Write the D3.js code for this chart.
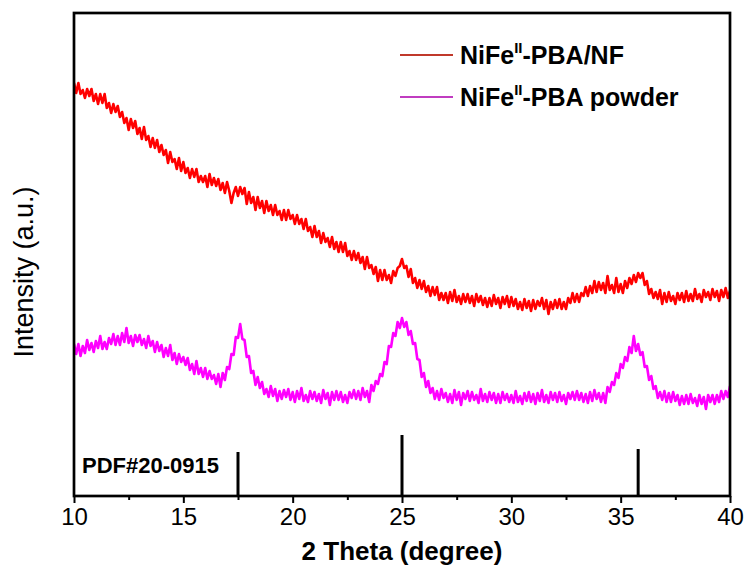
<!DOCTYPE html>
<html>
<head>
<meta charset="utf-8">
<script src="https://cdn.jsdelivr.net/npm/d3@7"></script>
<style>
  body { margin: 0; background: #fff; }
  svg { display: block; font-family: "Liberation Sans", Arial, sans-serif; }
</style>
</head>
<body>
<div id="chart"></div>
<script>
// scan grid (degrees 2theta)
const thetaStart = 10, thetaStep = 0.1;

// NiFe-PBA/NF, every 0.1 deg (a.u.)
const nfCounts = [
  413,403,413,402,406,398,407,400,407,395,
  402,392,402,393,402,388,393,383,392,384,
  390,379,384,373,378,366,377,368,375,362,
  368,357,369,356,360,349,358,348,356,344,
  351,341,346,333,344,334,337,327,338,325,
  334,323,328,318,327,319,327,314,320,314,
  320,309,322,311,318,310,317,306,313,303,
  314,305,293,303,309,300,309,302,308,292,
  304,293,299,286,299,288,295,283,295,285,
  291,281,291,281,285,276,286,276,286,277,
  281,272,281,272,277,267,277,265,269,259,
  270,259,265,253,263,254,258,249,259,247,
  254,244,254,244,253,240,245,236,245,236,
  243,233,239,227,239,228,231,222,229,215,
  226,216,226,216,221,213,225,220,228,230,
  237,228,230,219,227,213,218,208,216,207,
  215,204,210,200,209,201,209,196,203,196,
  203,193,204,195,206,194,200,192,202,194,
  202,193,200,190,202,194,200,191,198,189,
  198,190,201,192,198,188,199,192,200,189,
  199,190,197,187,194,186,197,188,195,185,
  196,187,195,190,198,187,196,182,194,187,
  196,188,197,187,194,187,198,193,203,194,
  202,194,203,200,209,200,210,203,215,204,
  214,206,213,203,220,206,211,203,218,204,
  212,203,215,208,218,212,221,214,223,218,
  223,211,215,202,207,198,204,197,206,192,
  203,194,204,195,200,192,203,196,203,194,
  205,195,202,195,207,197,202,194,206,199,
  204,196,207,199,205,195,206,199,208,198,
  205
];

// NiFe-PBA powder
const powderCounts = [
  152,142,152,140,150,143,156,146,153,144,
  155,148,160,147,154,147,158,152,162,151,
  160,151,163,154,168,153,160,150,161,154,
  161,151,157,148,160,150,155,144,154,145,
  151,139,148,140,151,136,143,132,142,134,
  139,131,138,126,132,122,135,122,128,119,
  128,117,125,117,121,112,122,109,123,116,
  129,127,142,141,159,158,172,157,156,139,
  140,123,125,111,119,108,114,102,107,99,
  110,100,107,95,105,97,106,99,107,96,
  104,94,105,97,108,95,101,94,105,97,
  104,95,102,93,106,97,103,91,104,96,
  105,96,104,94,101,93,104,98,106,97,
  105,96,108,99,105,94,111,105,115,112,
  122,120,134,132,150,149,163,160,174,168,
  178,169,174,161,165,152,153,137,136,119,
  123,109,115,103,108,97,105,96,107,98,
  103,94,102,93,106,96,104,91,103,97,
  105,95,104,96,101,93,107,95,102,94,
  104,96,103,93,102,93,104,96,102,94,
  101,93,105,94,100,92,103,95,104,94,
  102,92,103,95,106,94,101,93,104,96,
  103,94,104,95,101,92,103,97,104,96,
  105,96,103,94,102,93,104,95,106,97,
  103,94,103,93,109,104,114,111,123,118,
  132,128,139,135,149,143,160,145,152,141,
  144,129,130,116,120,107,110,98,104,96,
  105,94,103,94,104,95,101,91,100,92,
  101,92,102,93,98,90,101,92,99,87,
  101,94,101,92,101,94,105,97,105,99,
  110
];

// standard card PDF#20-0915
const pdfPeaks = [17.5, 25.0, 35.8];
const pdfHeights = [44, 61, 47];

const seriesNames = ["NiFe", "NiFe"];
const seriesTails = ["-PBA/NF", "-PBA powder"];
const seriesColors = ["#ff0000", "#ff00ff"];
const legendColors = ["#c0392b", "#c03cc0"];
const xTicks = [10, 15, 20, 25, 30, 35, 40];
const xMinorTicks = [12.5, 17.5, 22.5, 27.5, 32.5, 37.5];

var W = 748, H = 568;
var margin = {top: 13, right: 18, bottom: 72, left: 74},
  width = W - margin.left - margin.right,
  height = H - margin.top - margin.bottom;

var svg = d3.select("#chart")
  .append("svg")
  .attr("width", W)
  .attr("height", H)
  .append("g")
  .attr("transform", "translate(" + margin.left + "," + margin.top + ")");

var x = d3.scaleLinear().domain([10, 40]).range([0, width]);
var y = d3.scaleLinear().domain([0, height]).range([height, 0]);

svg.append("clipPath").attr("id", "clip")
  .append("rect").attr("width", width).attr("height", height);

function toPoints(arr) {
  return arr.map(function (v, i) { return {t: thetaStart + i * thetaStep, v: v}; });
}

var line = d3.line()
  .x(function (d) { return x(d.t); })
  .y(function (d) { return y(d.v); });

// the scans are noisy bands, so a wider stroke fills them in
[nfCounts, powderCounts].forEach(function (arr, k) {
  svg.append("path")
    .datum(toPoints(arr))
    .attr("clip-path", "url(#clip)")
    .attr("d", line)
    .attr("fill", "none")
    .attr("stroke", seriesColors[k])
    .attr("stroke-width", 2.6)
    .attr("stroke-linejoin", "round");
});

// reference sticks
svg.selectAll(".stick")
  .data(pdfPeaks)
  .enter().append("line")
  .attr("x1", function (d) { return x(d); })
  .attr("x2", function (d) { return x(d); })
  .attr("y1", height)
  .attr("y2", function (d, i) { return y(pdfHeights[i]); })
  .attr("stroke", "#000")
  .attr("stroke-width", 3);

svg.append("text")
  .attr("x", 8)
  .attr("y", 460)
  .style("font-size", "22px")
  .style("font-weight", "bold")
  .text("PDF#20-0915");

// axes
var xAxis = svg.append("g")
  .attr("transform", "translate(0," + height + ")")
  .call(d3.axisBottom(x).tickValues(xTicks).tickSize(7).tickPadding(5).tickFormat(d3.format("d")));
xAxis.select(".domain").remove();
xAxis.selectAll("line").attr("stroke-width", 2);
xAxis.selectAll("text")
  .style("font-size", "24px")
  .style("font-family", "Liberation Sans, Arial, sans-serif")
  .attr("fill", "#000");

svg.append("g")
  .attr("transform", "translate(0," + height + ")")
  .call(d3.axisBottom(x).tickValues(xMinorTicks).tickSize(4).tickFormat(""))
  .call(function (g) { g.select(".domain").remove(); })
  .selectAll("line").attr("stroke-width", 2);

// frame
svg.append("rect")
  .attr("width", width)
  .attr("height", height)
  .attr("fill", "none")
  .attr("stroke", "#000")
  .attr("stroke-width", 2.7);

svg.append("text")
  .attr("x", width / 2)
  .attr("y", height + 64)
  .attr("text-anchor", "middle")
  .style("font-size", "26px")
  .style("font-weight", "bold")
  .text("2 Theta (degree)");

svg.append("text")
  .attr("transform", "rotate(-90)")
  .attr("x", -259)
  .attr("y", -41)
  .attr("text-anchor", "middle")
  .style("font-size", "27px")
  .text("Intensity (a.u.)");

// legend
var legend = svg.selectAll(".legend")
  .data(seriesTails)
  .enter().append("g")
  .attr("class", "legend")
  .attr("transform", function (d, i) { return "translate(326," + (42 + i * 42) + ")"; });
legend.append("line")
  .attr("x1", 0).attr("x2", 53)
  .attr("stroke", function (d, i) { return legendColors[i]; })
  .attr("stroke-width", 1.8);
var lt = legend.append("text")
  .attr("x", 60)
  .attr("y", 9)
  .style("font-size", "25px")
  .style("font-weight", "bold");
lt.append("tspan").text(function (d, i) { return seriesNames[i]; });
lt.append("tspan").attr("dy", -11).style("font-size", "15px").text("II");
lt.append("tspan").attr("dy", 11).text(function (d) { return d; });
</script>
</body>
</html>
